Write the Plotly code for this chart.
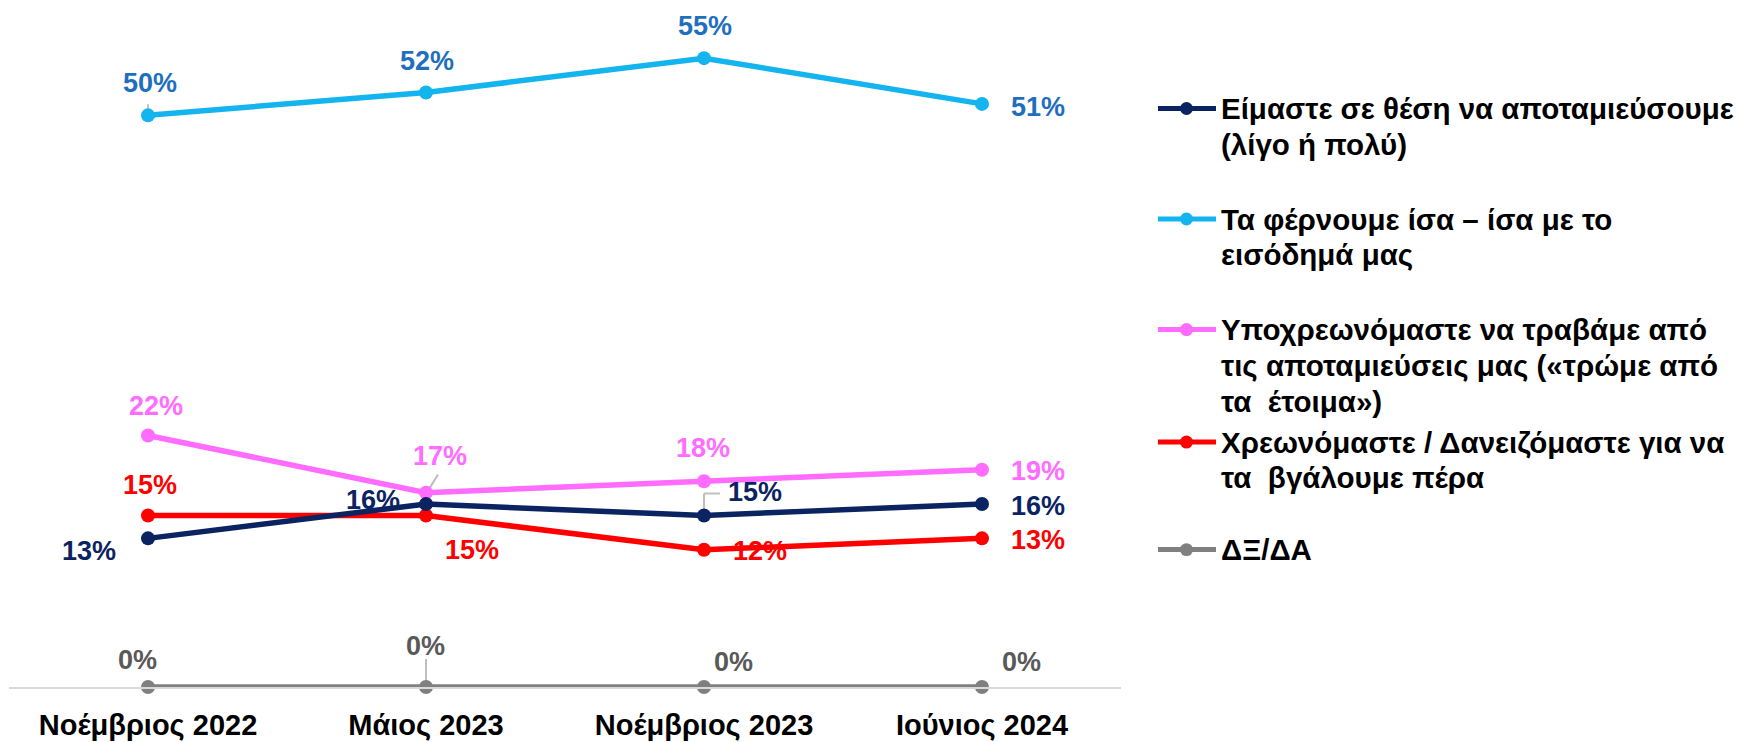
import plotly.graph_objects as go

categories = ["Νοέμβριος 2022", "Μάιος 2023", "Νοέμβριος 2023", "Ιούνιος 2024"]

save_vals = [13, 16, 15, 16]
even_vals = [50, 52, 55, 51]
dip_vals = [22, 17, 18, 19]
borrow_vals = [15, 15, 12, 13]
dk_vals = [0, 0, 0, 0]

legend_lines = [
    ["Είμαστε σε θέση να αποταμιεύσουμε", "(λίγο ή πολύ)"],
    ["Τα φέρνουμε ίσα – ίσα με το", "εισόδημά μας"],
    ["Υποχρεωνόμαστε να τραβάμε από", "τις αποταμιεύσεις μας («τρώμε από", "τα  έτοιμα»)"],
    ["Χρεωνόμαστε / Δανειζόμαστε για να", "τα  βγάλουμε πέρα"],
    ["ΔΞ/ΔΑ"],
]

W, H = 1741, 742
L, R, T, B = 9, 620, 1, 52
FONT = "Liberation Sans, Arial, sans-serif"

series = [
    dict(vals=save_vals, color="#0B2461", label_color="#0B2461",
         offs=[(-59, -13), (-53, 4), (51, 24), (56, -2)]),
    dict(vals=even_vals, color="#14B4EE", label_color="#1F6FBF",
         offs=[(2, 32), (1, 31), (1, 32), (56, -3)]),
    dict(vals=dip_vals, color="#FF6CFF", label_color="#FF6CFF",
         offs=[(8, 29), (14, 37), (-1, 33), (56, -1)]),
    dict(vals=borrow_vals, color="#FF0000", label_color="#FF0000",
         offs=[(2, 31), (46, -34), (56, -1), (56, -2)]),
    dict(vals=dk_vals, color="#808080", label_color="#595959",
         offs=[(-11, 27), (-1, 41), (29, 25), (39, 25)]),
]

fig = go.Figure()
annotations = []
shapes = []

order = [4, 1, 2, 3, 0]
for i in order:
    s = series[i]
    fig.add_trace(go.Scatter(
        x=categories, y=s["vals"], mode="lines+markers",
        line=dict(color=s["color"], width=5.5),
        marker=dict(color=s["color"], size=14),
        cliponaxis=False, showlegend=False, hoverinfo="skip",
    ))

for i, s in enumerate(series):
    for c, v, (dx, dy) in zip(categories, s["vals"], s["offs"]):
        annotations.append(dict(
            x=c, y=v, xref="x", yref="y", text=f"{v}%", showarrow=False,
            xshift=dx, yshift=dy,
            font=dict(family=FONT, size=27, color=s["label_color"], weight=700),
        ))

leaders = [
    (categories[0], even_vals[0], [(0, 0), (0, 11)]),
    (categories[1], dip_vals[1], [(2, 2), (12, 18)]),
    (categories[2], save_vals[2], [(0, 4), (0, 22), (16, 22)]),
    (categories[1], dk_vals[1], [(0, 0), (0, 28)]),
]
for c, v, pts in leaders:
    for (x0, y0), (x1, y1) in zip(pts[:-1], pts[1:]):
        shapes.append(dict(
            type="line", xref="x", yref="y", xsizemode="pixel", ysizemode="pixel",
            xanchor=c, yanchor=v, x0=x0, x1=x1, y0=y0, y1=y1,
            line=dict(color="#BFBFBF", width=2), layer="below",
        ))

pw = W - L - R
ph = H - T - B


def px(xp):
    return (xp - L) / pw


def py(yp):
    return 1 - (yp - T) / ph


leg_y = [109, 220, 331, 444, 552]
LINE_GAP = 36
for s, lines, yc in zip(series, legend_lines, leg_y):
    shapes.append(dict(type="line", xref="paper", yref="paper",
                       x0=px(1158), x1=px(1216), y0=py(yc), y1=py(yc),
                       line=dict(color=s["color"], width=5)))
    shapes.append(dict(type="circle", xref="paper", yref="paper",
                       x0=px(1180), x1=px(1193), y0=py(yc - 6.5), y1=py(yc + 6.5),
                       fillcolor=s["color"], line=dict(color=s["color"], width=0)))
    for k, line in enumerate(lines):
        annotations.append(dict(
            x=px(1219), y=py(yc + k * LINE_GAP), xref="paper", yref="paper", text=line,
            showarrow=False, xanchor="left", yanchor="middle", align="left",
            font=dict(family=FONT, size=29.5, color="#000000", weight=700),
        ))

fig.update_layout(
    width=W, height=H,
    margin=dict(l=L, r=R, t=T, b=B, pad=0),
    paper_bgcolor="white", plot_bgcolor="white",
    xaxis=dict(type="category", categoryorder="array", categoryarray=categories,
               range=[-0.5, 3.5], showgrid=False, zeroline=False,
               showline=True, linecolor="#D9D9D9", linewidth=2, ticks="",
               ticklabelstandoff=11,
               tickfont=dict(family=FONT, size=29, color="#000000", weight=700)),
    yaxis=dict(range=[0, 60], visible=False, showgrid=False, zeroline=False),
    annotations=annotations, shapes=shapes,
    showlegend=False,
)

fig.write_html("out.html", config={"displayModeBar": False},
               post_script="document.body.style.margin='0';document.body.style.overflow='hidden';")
